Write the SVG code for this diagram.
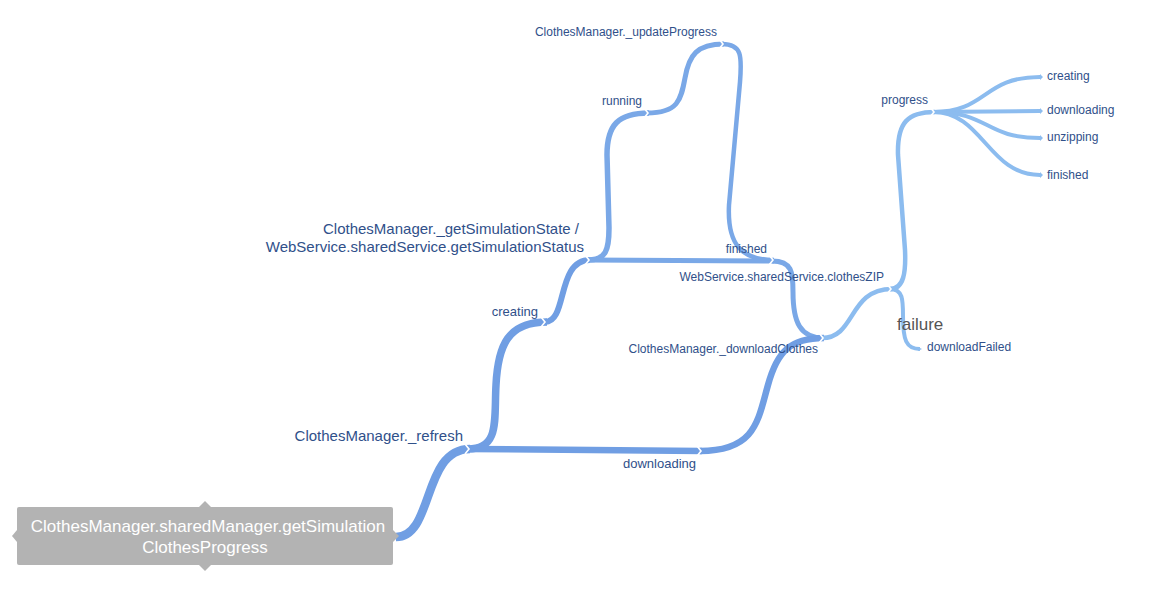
<svg xmlns="http://www.w3.org/2000/svg" width="1170" height="591" viewBox="0 0 1170 591">
<style>
.b{fill:none;stroke-linecap:butt;}
.d{stroke:#709ee3;}
.m{stroke:#7aa8e7;}
.l{stroke:#8cbcef;}
.g{fill:none;stroke:#ffffff;stroke-width:1.6;stroke-linejoin:miter;}
.t{font-family:"Liberation Sans",Arial,sans-serif;fill:#30508a;}
.s12{font-size:12px;}
.s13{font-size:13px;}
.s15{font-size:15px;}
</style>
<rect width="1170" height="591" fill="#ffffff"/>
<g id="connectors">
<path class="b d" stroke-width="8.5" d="M396,537 C434,537 422,449 470,449"/>
<path class="b d" stroke-width="7.5" d="M468,449 C500,449 494,420 496,385 C498,345 508,322 547,322"/>
<path class="b d" stroke-width="6.5" d="M468,449 L702,451"/>
<path class="b d" stroke-width="6" d="M545,322 C568,322 556,260 590,260"/>
<path class="b m" stroke-width="5.5" d="M588,260 C606,260 609,250 609,228 L607,155 C607,125 618,113 649,113"/>
<path class="b m" stroke-width="5" d="M647,113 C678,113 681,100 685,78 C689,55 697,44 724,44"/>
<path class="b m" stroke-width="4.5" d="M722,44 C742,44 742,56 740,82 L729,205 C727,245 742,260 774,260"/>
<path class="b m" stroke-width="5" d="M588,260 L774,261"/>
<path class="b m" stroke-width="5" d="M772,261 C792,261 793,272 793,292 C793,322 800,338 824,338"/>
<path class="b d" stroke-width="6.5" d="M700,451 C756,451 758,420 768,385 C777,352 790,338 824,338"/>
<path class="b l" stroke-width="4.5" d="M822,338 C856,338 848,289 892,289"/>
<path class="b l" stroke-width="4.5" d="M890,289 C904,289 906,272 905,250 L898,155 C897,122 908,112 935,112"/>
<path class="b l" stroke-width="4" d="M890,289 C903,289 903,300 903,316 C903,340 906,349 920,349"/>
<path class="b l" stroke-width="4" d="M933,112 C988,112 982,77 1040,77"/>
<path class="b l" stroke-width="4" d="M933,112 L1040,111"/>
<path class="b l" stroke-width="4" d="M933,112 C990,112 984,138 1040,138"/>
<path class="b l" stroke-width="4" d="M933,112 C983,112 988,175 1040,175"/>
<polyline class="g" points="465,444 469,449 465,454"/>
<polyline class="g" points="541,317 545,322 541,327"/>
<polyline class="g" points="585,255 589,260 585,265"/>
<polyline class="g" points="644,108 648,113 644,118"/>
<polyline class="g" points="719,39 723,44 719,49"/>
<polyline class="g" points="769,255 773,260 769,265"/>
<polyline class="g" points="697,446 701,451 697,456"/>
<polyline class="g" points="819,333 823,338 819,343"/>
<polyline class="g" points="887,284 891,289 887,294"/>
<polyline class="g" points="930,107 934,112 930,117"/>
<path d="M1040,74 L1043,77 L1040,80 Z M1040,108 L1043,111 L1040,114 Z M1040,135 L1043,138 L1040,141 Z M1040,172 L1043,175 L1040,178 Z M918,347 L922,349 L918,351 Z" fill="#8cbcef"/>
</g>
<g id="root">
<rect x="17" y="507" width="376" height="58" rx="2" fill="#b3b3b3"/>
<polygon points="199,507 205,501 211,507" fill="#b3b3b3"/>
<polygon points="199,565 205,571 211,565" fill="#b3b3b3"/>
<polygon points="17,530 12,536 17,542" fill="#b3b3b3"/>
<polygon points="393,530 399,536 393,542" fill="#b3b3b3"/>
<text x="208" y="532" text-anchor="middle" font-family="Liberation Sans, Arial, sans-serif" font-size="17" fill="#ffffff">ClothesManager.sharedManager.getSimulation</text>
<text x="205" y="553" text-anchor="middle" font-family="Liberation Sans, Arial, sans-serif" font-size="17" fill="#ffffff">ClothesProgress</text>
</g>
<g id="n-refresh"><text class="t s15" x="463" y="441" text-anchor="end">ClothesManager._refresh</text></g>
<g id="n-creating"><text class="t s13" x="538" y="316" text-anchor="end">creating</text></g>
<g id="n-downloading"><text class="t s13" x="623" y="468">downloading</text></g>
<g id="n-getstate"><text class="t s15" x="579" y="234" text-anchor="end">ClothesManager._getSimulationState /</text><text class="t s15" x="584" y="252" text-anchor="end">WebService.sharedService.getSimulationStatus</text></g>
<g id="n-running"><text class="t s12" x="642" y="105" text-anchor="end">running</text></g>
<g id="n-update"><text class="t s12" x="717" y="36" text-anchor="end">ClothesManager._updateProgress</text></g>
<g id="n-finished"><text class="t s12" x="767" y="253" text-anchor="end">finished</text></g>
<g id="n-zip"><text class="t s12" x="884" y="281" text-anchor="end">WebService.sharedService.clothesZIP</text></g>
<g id="n-download"><text class="t s12" x="818" y="353" text-anchor="end">ClothesManager._downloadClothes</text></g>
<g id="n-progress"><text class="t s12" x="928" y="104" text-anchor="end">progress</text></g>
<g id="n-p-creating"><text class="t s12" x="1047" y="80">creating</text></g>
<g id="n-p-downloading"><text class="t s12" x="1047" y="114">downloading</text></g>
<g id="n-p-unzipping"><text class="t s12" x="1047" y="141">unzipping</text></g>
<g id="n-p-finished"><text class="t s12" x="1047" y="179">finished</text></g>
<g id="n-failure"><text x="897" y="330" font-family="Liberation Sans, Arial, sans-serif" font-size="17" fill="#555555">failure</text></g>
<g id="n-failed"><text class="t s12" x="927" y="351">downloadFailed</text></g>
</svg>
